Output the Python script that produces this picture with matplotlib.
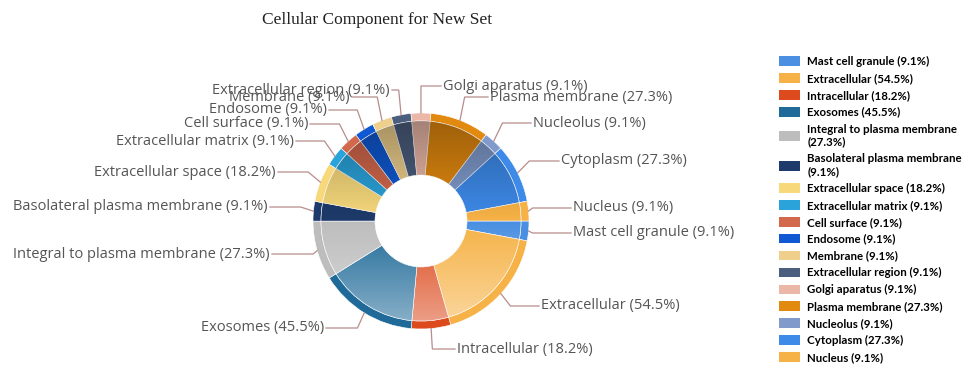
import numpy as np
import matplotlib
matplotlib.use("Agg")
import matplotlib.pyplot as plt
import matplotlib.patches as mpatches

# cellular component terms, percent of genes in the set
terms = ["Mast cell granule", "Extracellular", "Intracellular", "Exosomes",
         "Integral to plasma membrane", "Basolateral plasma membrane",
         "Extracellular space", "Extracellular matrix", "Cell surface",
         "Endosome", "Membrane", "Extracellular region", "Golgi aparatus",
         "Plasma membrane", "Nucleolus", "Cytoplasm", "Nucleus"]
pct = [9.1, 54.5, 18.2, 45.5, 27.3, 9.1, 18.2, 9.1, 9.1,
       9.1, 9.1, 9.1, 9.1, 27.3, 9.1, 27.3, 9.1]
colors = ["#4a8fe2", "#f6b246", "#dc4a1e", "#1f6a98", "#bdbdbd", "#1d3a6a",
          "#f7d97c", "#2aa2da", "#d2684c", "#1059d2", "#eecf8c", "#4c5e7e",
          "#ebb8a8", "#e2890f", "#7f9acb", "#3d8ae9", "#f6b246"]

# where each callout text sits (x px from left, y px from top)
label_pos = [(573, 233), (541, 306), (457, 349), (324, 328), (270, 254),
             (268, 207), (276, 172), (294, 141), (308, 124), (327, 110),
             (350, 97), (390, 90), (443, 86), (490, 97), (533, 123),
             (561, 161), (573, 208)]

W, H = 966, 366
cx, cy, R = 421, H - 221, 108
r_in = 46
rim = 8

fig = plt.figure(figsize=(W / 100, H / 100), dpi=100)
ax = fig.add_axes([0, 0, 1, 1])

# outer rim in full colour
ax.pie(pct, colors=colors, startangle=0, counterclock=False, center=(cx, cy),
       radius=R, wedgeprops=dict(width=rim, edgecolor="white", linewidth=0.4))
# body of the ring
wedges, _ = ax.pie(pct, colors=colors, startangle=0, counterclock=False,
                   center=(cx, cy), radius=R - rim,
                   wedgeprops=dict(width=R - rim - r_in, edgecolor="white", linewidth=0.4))

# light from below: darken the top, wash out the bottom
n = 200
grad = np.zeros((n, 2, 4))
t = np.linspace(0, 1, n)  # 0 top, 1 bottom
for i, v in enumerate(t):
    if v < 0.5:
        grad[i, :, :3] = 0.0
        grad[i, :, 3] = 0.32 * (0.5 - v) / 0.5
    else:
        grad[i, :, :3] = 1.0
        grad[i, :, 3] = 0.5 * (v - 0.5) / 0.5
img = ax.imshow(grad, extent=(cx - R, cx + R, cy - R, cy + R), origin="upper",
                interpolation="bilinear", zorder=3)
ring = mpatches.Wedge((cx, cy), R - rim, 0, 360, width=R - rim - r_in,
                      transform=ax.transData, facecolor="none", edgecolor="none")
ax.add_patch(ring)
img.set_clip_path(ring)

# callouts
cum = np.cumsum([0] + pct)
tot = cum[-1]
for i, name in enumerate(terms):
    mid = -(cum[i] + pct[i] / 2) / tot * 2 * np.pi
    x0, y0 = cx + R * np.cos(mid), cy + R * np.sin(mid)
    lx, ly = label_pos[i]
    ly = H - ly
    side = 1 if lx > cx + R * np.cos(mid) else -1
    ex = cx + 1.12 * R * np.cos(mid)
    if abs(ly - y0) < 4:
        ex = x0 + side * 4
    ax.plot([x0, ex, lx - side * 2], [y0, ly, ly], color="#b88c8c", lw=0.9,
            zorder=4, solid_joinstyle="miter")
    ax.text(lx, ly, "%s (%s%%)" % (name, pct[i]), ha="left" if side > 0 else "right",
            va="center", fontsize=10.5, family="Open Sans", color="#555555", zorder=5)

ax.set_xlim(0, W)
ax.set_ylim(0, H)
ax.set_aspect("equal")
ax.axis("off")

fig.text(377 / W, 1 - 20 / H, "Cellular Component for New Set", ha="center", va="center",
         fontsize=12.5, family="Liberation Serif", color="#222222")

leg_labels = []
for name, p in zip(terms, pct):
    lab = "%s (%s%%)" % (name, p)
    if len(lab) > 30:
        lab = "%s\n(%s%%)" % (name, p)
    leg_labels.append(lab)
handles = [mpatches.Patch(facecolor=c, edgecolor="none") for c in colors]
fig.legend(handles, leg_labels, loc="upper left", bbox_to_anchor=(779 / W, 1 - 56 / H),
           frameon=False, prop=dict(family="Lato", weight="bold", size=8.3),
           handlelength=1.8, handleheight=0.92, handletextpad=0.65, labelspacing=0.51,
           borderaxespad=0, borderpad=0)

fig.savefig("out.png", dpi=100)
